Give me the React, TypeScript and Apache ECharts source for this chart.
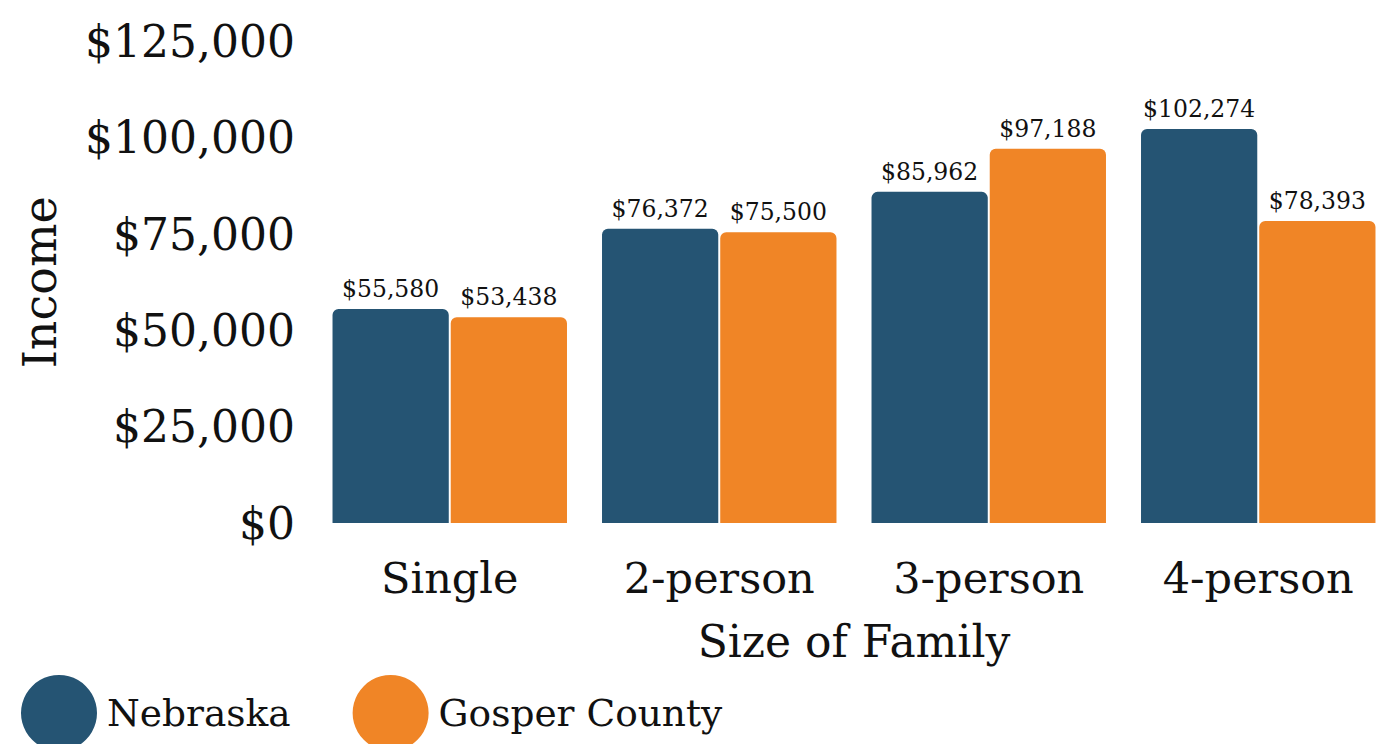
import React, { useEffect, useRef } from "react";
import * as echarts from "echarts";

const categories = ["Single", "2-person", "3-person", "4-person"];
const nebraska = [55580, 76372, 85962, 102274];
const gosper = [53438, 75500, 97188, 78393];
const seriesNames = ["Nebraska", "Gosper County"];
const colors = ["#255473", "#F08526"];

const FONT = "DejaVu Serif";

const fmt = (v: number) => "$" + v.toLocaleString("en-US");

export default function App() {
  const ref = useRef<HTMLDivElement>(null);
  useEffect(() => {
    if (!ref.current) return;
    const chart = echarts.init(ref.current, null, { renderer: "svg" });
    const label = {
      show: true,
      position: "top" as const,
      distance: 8,
      fontFamily: FONT,
      fontSize: 23.5,
      color: "#111",
      formatter: (p: any) => fmt(p.value),
    };
    chart.setOption({
      animation: false,
      textStyle: { fontFamily: FONT },
      legend: {
        left: 16,
        bottom: -12,
        itemWidth: 78,
        itemHeight: 76,
        itemGap: 62,
        icon: "circle",
        textStyle: { fontFamily: FONT, fontSize: 37.5, color: "#111", padding: [6, 0, 0, 4] },
        data: seriesNames,
      },
      grid: { left: 315, right: 7, top: 41.5, bottom: 221, containLabel: false },
      xAxis: {
        type: "category",
        data: categories,
        axisLine: { show: false },
        axisTick: { show: false },
        axisLabel: { fontFamily: FONT, fontSize: 43, color: "#111", margin: 33 },
        name: "Size of Family",
        nameLocation: "middle",
        nameGap: 96,
        nameTextStyle: { fontFamily: FONT, fontSize: 44, color: "#111" },
      },
      yAxis: {
        type: "value",
        min: 0,
        max: 125000,
        interval: 25000,
        splitLine: { show: false },
        axisLine: { show: false },
        axisTick: { show: false },
        axisLabel: {
          fontFamily: FONT,
          fontSize: 44,
          color: "#111",
          margin: 20,
          formatter: (v: number) => fmt(v),
        },
        name: "Income",
        nameLocation: "middle",
        nameGap: 252,
        nameRotate: 90,
        nameTextStyle: { fontFamily: FONT, fontSize: 46, color: "#111" },
      },
      series: [
        {
          name: seriesNames[0],
          type: "bar",
          data: nebraska,
          barGap: "1.7%",
          barCategoryGap: "13%",
          itemStyle: { color: colors[0], borderRadius: [6, 6, 0, 0] },
          label,
        },
        {
          name: seriesNames[1],
          type: "bar",
          data: gosper,
          itemStyle: { color: colors[1], borderRadius: [6, 6, 0, 0] },
          label,
        },
      ],
    });
    return () => chart.dispose();
  }, []);
  return <div ref={ref} style={{ width: 1400, height: 744, position: "absolute", left: 0, top: 0 }} />;
}
